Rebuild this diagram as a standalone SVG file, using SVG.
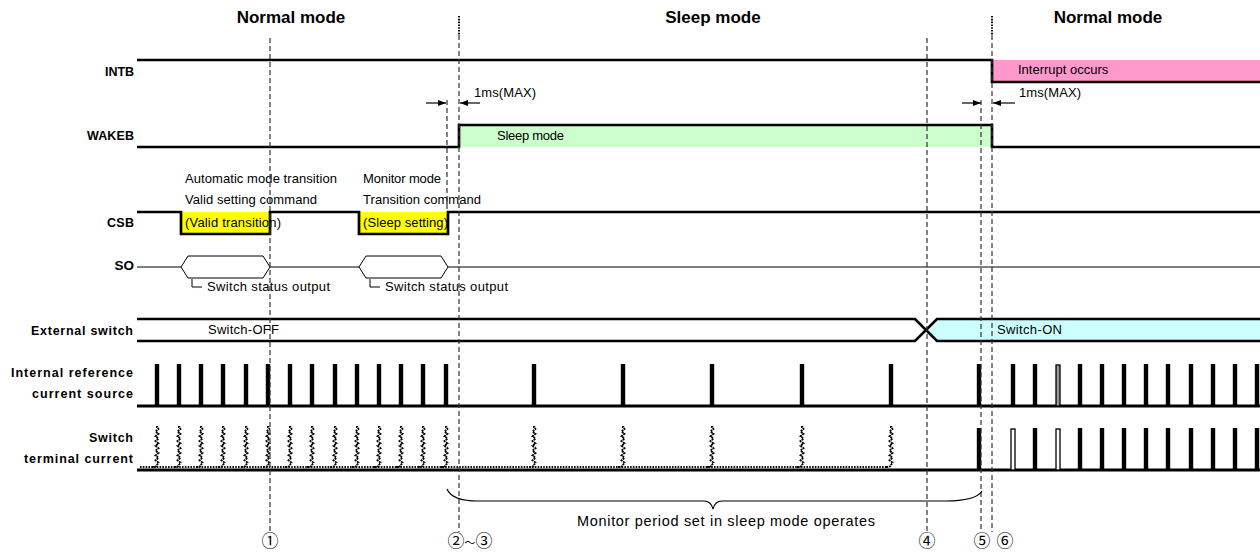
<svg xmlns="http://www.w3.org/2000/svg" width="1260" height="555" viewBox="0 0 1260 555">
<style>
.t{font-family:"Liberation Sans",Arial,sans-serif;font-size:13px;fill:#000}
.lb{font-family:"Liberation Sans",Arial,sans-serif;font-size:12.5px;font-weight:bold;fill:#000}
.hd{font-family:"Liberation Sans",Arial,sans-serif;font-size:17px;font-weight:bold;text-anchor:middle;fill:#000}
.num{font-family:"Noto Sans CJK JP","DejaVu Sans",sans-serif;font-size:17px;text-anchor:middle;fill:#000}
.sig{fill:none;stroke:#000;stroke-width:2.7}
.thin{fill:none;stroke:#000;stroke-width:1}
.dash{stroke:#333;stroke-width:1.2;stroke-dasharray:5 3;fill:none}
.dot{stroke:#111;stroke-width:2;stroke-dasharray:1.6 1.2;fill:none}
.arr{stroke:#000;stroke-width:1.2;fill:none;marker-end:url(#ah)}
.zz{fill:none;stroke:#000;stroke-width:1.8;stroke-dasharray:2 0.8}
</style>
<defs>
<marker id="ah" viewBox="0 0 8 6" refX="8" refY="3" markerWidth="8" markerHeight="6" orient="auto" markerUnits="userSpaceOnUse"><path d="M0,0 L8,3 L0,6 Z" fill="#000"/></marker>
<rect id="p" x="-2.2" y="364" width="4.4" height="42" fill="#000"/>
<rect id="ph" x="-2" y="365" width="4" height="41" fill="#999" stroke="#000" stroke-width="1.3"/>
<rect id="q" x="-2.2" y="428" width="4.4" height="42" fill="#000"/>
<rect id="qh" x="-2" y="429" width="4" height="41" fill="#fff" stroke="#000" stroke-width="1.3"/>
<path id="zz" class="zz" d="M-5,467 Q0,467 0,465 l1.5,-2.4 l-3,-2.4 l3,-2.4 l-3,-2.4 l3,-2.4 l-3,-2.4 l3,-2.4 l-3,-2.4 l3,-2.4 l-3,-2.4 l3,-2.4 l-3,-2.4 l3,-2.4 l-3,-2.4 l3,-2.4 l-1,-2 l-1.5,0"/>
</defs>

<g id="headers">
<text class="hd" x="291" y="23">Normal mode</text>
<text class="hd" x="713" y="23">Sleep mode</text>
<text class="hd" x="1108" y="23">Normal mode</text>
</g>

<g id="sig-INTB">
<rect x="992" y="60" width="268" height="22" fill="#FF99CC"/>
<path class="sig" d="M137,60 H992 V82 H1260"/>
<text class="lb" x="105" y="76" textLength="29">INTB</text>
<text class="t" x="1018" y="74">Interrupt occurs</text>
</g>

<g id="sig-WAKEB">
<rect x="459" y="125" width="533" height="22" fill="#CCFFCC"/>
<path class="sig" d="M137,147 H459 V125 H992 V147 H1260"/>
<text class="lb" x="87" y="140" textLength="47">WAKEB</text>
<text class="t" x="497" y="140" textLength="67">Sleep mode</text>
</g>

<g id="sig-CSB">
<rect x="181" y="212" width="89" height="22" fill="#FFFF00"/>
<rect x="359" y="212" width="89" height="22" fill="#FFFF00"/>
<path class="sig" d="M137,212 H181 V234 H270 V212 H359 V234 H448 V212 H1260"/>
<text class="lb" x="107" y="227" textLength="27">CSB</text>
<text class="t" x="185" y="183" textLength="152">Automatic mode transition</text>
<text class="t" x="185" y="204" textLength="132">Valid setting command</text>
<text class="t" x="185" y="227" textLength="96">(Valid transition)</text>
<text class="t" x="363" y="183" textLength="78">Monitor mode</text>
<text class="t" x="363" y="204" textLength="118">Transition command</text>
<text class="t" x="363" y="227" textLength="85">(Sleep setting)</text>
</g>

<g id="sig-SO">
<path class="thin" d="M137,267 H181 L188,256 H263 L270,267 L263,278 H188 L181,267 M270,267 H359 L366,256 H441 L448,267 L441,278 H366 L359,267 M448,267 H1260"/>
<path class="thin" d="M192,279 V287 H202 M370,279 V287 H380"/>
<text class="lb" x="134" y="270" text-anchor="end" style="font-size:13.5px">SO</text>
<text class="t" x="207" y="291" textLength="123">Switch status output</text>
<text class="t" x="385" y="291" textLength="123">Switch status output</text>
</g>

<g id="sig-ExtSwitch">
<path d="M926,330 L937,319 H1260 V341 H937 Z" fill="#CCFFFF"/>
<path class="sig" d="M137,319 H915 L937,341 H1260 M137,341 H915 L937,319 H1260"/>
<text class="lb" x="31" y="335" textLength="102">External switch</text>
<text class="t" x="208" y="334" textLength="71">Switch-OFF</text>
<text class="t" x="997" y="334" textLength="65">Switch-ON</text>
</g>

<g id="sig-IRef">
<text class="lb" x="11" y="377" textLength="122">Internal reference</text>
<text class="lb" x="32" y="398" textLength="101">current source</text>
<line x1="137" y1="406" x2="1260" y2="406" stroke="#000" stroke-width="3"/>
<use href="#p" x="157"/><use href="#p" x="179"/><use href="#p" x="201"/><use href="#p" x="223"/><use href="#p" x="246"/><use href="#p" x="268"/><use href="#p" x="290"/><use href="#p" x="312"/><use href="#p" x="335"/><use href="#p" x="357"/><use href="#p" x="379"/><use href="#p" x="401"/><use href="#p" x="423"/><use href="#p" x="446"/>
<use href="#p" x="534"/><use href="#p" x="623"/><use href="#p" x="712"/><use href="#p" x="802"/><use href="#p" x="891"/><use href="#p" x="979"/>
<use href="#p" x="1013"/><use href="#p" x="1035"/><use href="#ph" x="1058"/><use href="#p" x="1080"/><use href="#p" x="1102"/><use href="#p" x="1124"/><use href="#p" x="1146"/><use href="#p" x="1168"/><use href="#p" x="1191"/><use href="#p" x="1213"/><use href="#p" x="1235"/><use href="#p" x="1257"/>
</g>

<g id="sig-SwCurrent">
<text class="lb" x="89" y="442" textLength="44">Switch</text>
<text class="lb" x="24" y="463" textLength="109">terminal current</text>
<line x1="140" y1="467" x2="888" y2="467" class="dot"/>
<line x1="137" y1="470" x2="1260" y2="470" stroke="#000" stroke-width="3"/>
<use href="#zz" x="157"/><use href="#zz" x="179"/><use href="#zz" x="201"/><use href="#zz" x="223"/><use href="#zz" x="246"/><use href="#zz" x="268"/><use href="#zz" x="290"/><use href="#zz" x="312"/><use href="#zz" x="335"/><use href="#zz" x="357"/><use href="#zz" x="379"/><use href="#zz" x="401"/><use href="#zz" x="423"/><use href="#zz" x="446"/>
<use href="#zz" x="534"/><use href="#zz" x="623"/><use href="#zz" x="712"/><use href="#zz" x="802"/><use href="#zz" x="891"/>
<use href="#q" x="979"/><use href="#qh" x="1013"/><use href="#q" x="1035"/><use href="#qh" x="1058"/><use href="#q" x="1080"/><use href="#q" x="1102"/><use href="#q" x="1124"/><use href="#q" x="1146"/><use href="#q" x="1168"/><use href="#q" x="1191"/><use href="#q" x="1213"/><use href="#q" x="1235"/><use href="#q" x="1257"/>
</g>

<g id="connectors">
<line class="dash" x1="270" y1="38" x2="270" y2="532"/>
<line class="dash" x1="447" y1="100" x2="447" y2="212"/>
<line class="dot" x1="459" y1="16" x2="459" y2="35"/>
<line class="dash" x1="459" y1="35" x2="459" y2="532"/>
<line class="dash" x1="927" y1="38" x2="927" y2="532"/>
<line class="dash" x1="981" y1="100" x2="981" y2="532"/>
<line class="dot" x1="992" y1="16" x2="992" y2="35"/>
<line class="dash" x1="992" y1="35" x2="992" y2="532"/>
<line class="arr" x1="426" y1="103" x2="446" y2="103"/>
<line class="arr" x1="480" y1="103" x2="460" y2="103"/>
<line class="arr" x1="962" y1="103" x2="981" y2="103"/>
<line class="arr" x1="1015" y1="103" x2="993" y2="103"/>
<path d="M447,489 Q452,501 478,501 L704,501 Q711,501 713,509 Q715,501 722,501 L945,501 Q976,501 982,491" fill="none" stroke="#000" stroke-width="1.2"/>
</g>

<g id="labels">
<text class="t" x="474" y="97" textLength="62">1ms(MAX)</text>
<text class="t" x="1019" y="97" textLength="62">1ms(MAX)</text>
<text class="t" x="577" y="526" style="font-size:14.5px" textLength="298">Monitor period set in sleep mode operates</text>
<text class="num" x="270" y="547">①</text>
<text class="num" x="470" y="547">②<tspan style="font-size:11px">～</tspan>③</text>
<text class="num" x="927" y="547">④</text>
<text class="num" x="982" y="547">⑤</text>
<text class="num" x="1005" y="547">⑥</text>
</g>
</svg>
